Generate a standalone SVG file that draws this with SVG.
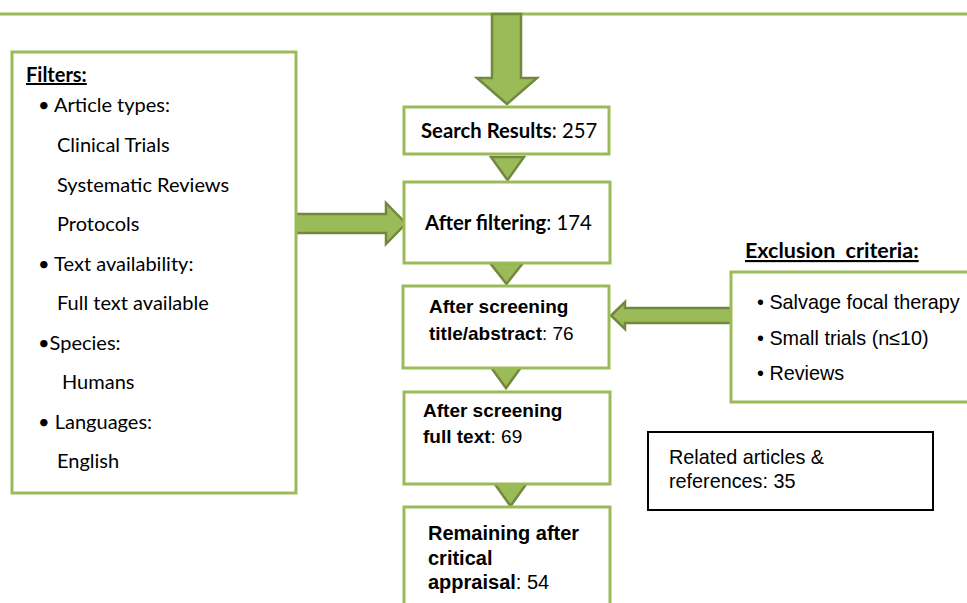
<svg xmlns="http://www.w3.org/2000/svg" width="967" height="603" viewBox="0 0 967 603">
<style>
.box{fill:#fff;stroke:#9bbb59;stroke-width:3}
.arr{fill:#9bbb59;stroke:#71893f;stroke-width:2.5;stroke-linejoin:miter}
.c{font-family:Lato,"Liberation Sans",sans-serif;font-size:20px;fill:#000}
.a{font-family:"Liberation Sans",Arial,sans-serif;font-size:19px;fill:#000}
.b{font-weight:bold}
</style>
<rect width="967" height="603" fill="#fff"/>
<line x1="0" y1="14" x2="967" y2="14" stroke="#9bbb59" stroke-width="3"/>
<g id="connectors">
<path class="arr" d="M492,14 L521,14 L521,78 L537,78 L507,104 L477,78 L492,78 Z"/>
<path class="arr" d="M491,157 L524,157 L507.5,180 Z"/>
<path class="arr" d="M490,263 L523,263 L506.5,284 Z"/>
<path class="arr" d="M490,366 L522,366 L506,388 Z"/>
<path class="arr" d="M494,483 L527,483 L510.5,506 Z"/>
<path class="arr" d="M295,214 L386,214 L386,203 L406,223.5 L386,244 L386,233 L295,233 Z"/>
<path class="arr" d="M732,308 L625,308 L625,302 L611,315.5 L625,329 L625,323 L732,323 Z"/>
</g>
<g id="filters">
<rect class="box" x="12" y="52" width="284" height="441"/>
<text class="c b" x="26" y="82" text-decoration="underline">Filters:</text>
<text class="c" x="38" y="112">• Article types:</text>
<text class="c" x="57" y="152">Clinical Trials</text>
<text class="c" x="57" y="192">Systematic Reviews</text>
<text class="c" x="57" y="231">Protocols</text>
<text class="c" x="38" y="271">• Text availability:</text>
<text class="c" x="57" y="310">Full text available</text>
<text class="c" x="38" y="350">•Species:</text>
<text class="c" x="62" y="389">Humans</text>
<text class="c" x="38" y="429">• Languages:</text>
<text class="c" x="57" y="468">English</text>
</g>
<g id="search">
<rect class="box" x="404" y="107" width="205" height="47"/>
<text class="c" x="421" y="138" style="font-size:20.3px"><tspan class="b">Search Results</tspan>: 257</text>
</g>
<g id="filtering">
<rect class="box" x="404" y="182" width="206" height="81"/>
<text class="c" x="425" y="230" style="font-size:20.3px"><tspan class="b">After filtering</tspan>: 174</text>
</g>
<g id="screen1">
<rect class="box" x="403" y="286" width="206" height="82"/>
<text class="a b" x="429" y="313">After screening</text>
<text class="a" x="429" y="340"><tspan class="b">title/abstract</tspan>: 76</text>
</g>
<g id="screen2">
<rect class="box" x="404" y="392" width="206" height="92"/>
<text class="a b" x="423" y="417">After screening</text>
<text class="a" x="423" y="443"><tspan class="b">full text</tspan>: 69</text>
</g>
<g id="remaining">
<rect class="box" x="404" y="507" width="206" height="110"/>
<text class="a b" x="428" y="540" style="font-size:20px">Remaining after</text>
<text class="a b" x="428" y="565" style="font-size:20px">critical</text>
<text class="a" x="428" y="589" style="font-size:20px"><tspan class="b">appraisal</tspan>: 54</text>
</g>
<g id="exclusion">
<text class="c b" x="745" y="258" style="font-size:21.5px;word-spacing:5px" text-decoration="underline">Exclusion criteria:</text>
<rect class="box" x="731" y="272" width="250" height="130"/>
<text class="a" x="757" y="309" style="font-size:19.8px">• Salvage focal therapy</text>
<text class="a" x="757" y="345" style="font-size:19.8px">• Small trials (n≤10)</text>
<text class="a" x="757" y="380" style="font-size:19.8px">• Reviews</text>
</g>
<g id="related">
<rect x="648" y="432" width="285" height="78" fill="#fff" stroke="#000" stroke-width="2"/>
<text class="a" x="669" y="464" style="font-size:19.8px">Related articles &amp;</text>
<text class="a" x="669" y="488" style="font-size:19.8px">references: 35</text>
</g>
</svg>
